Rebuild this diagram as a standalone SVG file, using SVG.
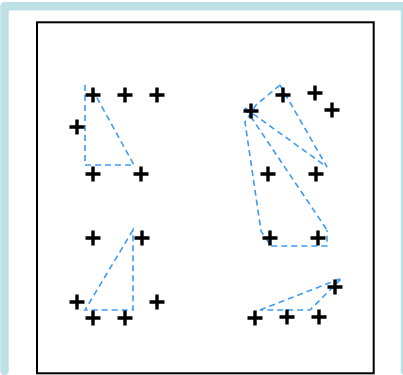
<svg xmlns="http://www.w3.org/2000/svg" xmlns:xlink="http://www.w3.org/1999/xlink" width="403" height="375" viewBox="0 0 403 375">
<style>
.frame{fill:none;stroke:#bde0e4;stroke-width:8.5;stroke-linejoin:round;stroke-linecap:round}
.box{fill:#fff;stroke:#000;stroke-width:2}
.dash{fill:none;stroke:#3d9af5;stroke-width:1.6;stroke-dasharray:6 4}
.pt{stroke:#000;stroke-width:3.4;fill:none}
</style>
<defs>
<path id="plus" class="pt" d="M-7.5,0H7.5M0,-7.5V7.5"/>
</defs>
<rect width="403" height="375" fill="#fff"/>
<path class="frame" d="M4.5,371V6.2H405V371"/>
<rect class="box" x="37" y="22.3" width="336.7" height="351"/>
<g id="connectors">
<path class="dash" d="M85,85V165H134L91,87"/>
<path class="dash" d="M280,85L256,105L245,122L261,231L271,246H327V230"/>
<path class="dash" d="M245,108L327,230"/>
<path class="dash" d="M245,108L327,167L280,85"/>
<path class="dash" d="M133,230L85,310H133Z"/>
<path class="dash" d="M260,310L342,278L310,310Z"/>
</g>
<g id="cluster-top-left">
<use xlink:href="#plus" x="93" y="95"/>
<use xlink:href="#plus" x="125" y="95"/>
<use xlink:href="#plus" x="157" y="95"/>
<use xlink:href="#plus" x="77" y="127"/>
<use xlink:href="#plus" x="93" y="174"/>
<use xlink:href="#plus" x="141" y="174"/>
</g>
<g id="cluster-top-right">
<use xlink:href="#plus" x="283" y="95"/>
<use xlink:href="#plus" x="315" y="93"/>
<use xlink:href="#plus" x="332" y="110"/>
<use xlink:href="#plus" x="251" y="111"/>
<use xlink:href="#plus" x="268" y="174"/>
<use xlink:href="#plus" x="316" y="174"/>
<use xlink:href="#plus" x="270" y="238"/>
<use xlink:href="#plus" x="318" y="238"/>
</g>
<g id="cluster-bottom-left">
<use xlink:href="#plus" x="93" y="238"/>
<use xlink:href="#plus" x="142" y="238"/>
<use xlink:href="#plus" x="77" y="302"/>
<use xlink:href="#plus" x="157" y="302"/>
<use xlink:href="#plus" x="93" y="318"/>
<use xlink:href="#plus" x="125" y="318"/>
</g>
<g id="cluster-bottom-right">
<use xlink:href="#plus" x="255" y="318"/>
<use xlink:href="#plus" x="287" y="317"/>
<use xlink:href="#plus" x="319" y="317"/>
<use xlink:href="#plus" x="335" y="287"/>
</g>
</svg>
